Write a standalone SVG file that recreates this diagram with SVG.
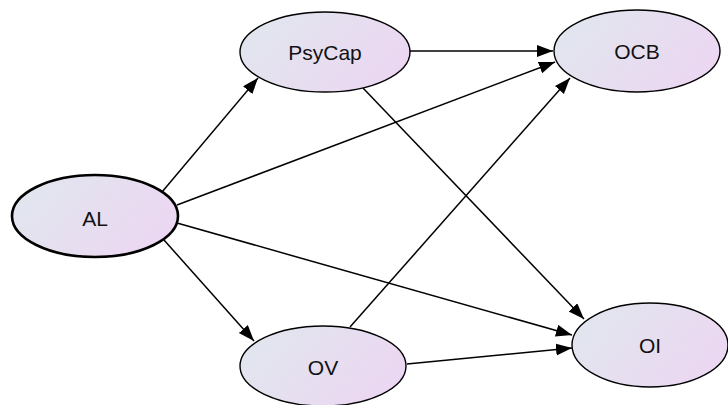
<svg xmlns="http://www.w3.org/2000/svg" width="728" height="405" viewBox="0 0 728 405">
  <style>
    .node ellipse { fill: url(#nodeFill); stroke: #000; stroke-width: 1.4; }
    .node.main ellipse { stroke-width: 2.6; }
    .node text { font-family: "Liberation Sans", Arial, sans-serif; font-size: 21px; fill: #111; text-anchor: middle; dominant-baseline: central; }
    .edges path { fill: none; stroke: #000; stroke-width: 1.5; marker-end: url(#arrow); }
  </style>
  <defs>
    <linearGradient id="nodeFill" x1="0" y1="0.3" x2="1" y2="0.7">
      <stop offset="0" stop-color="#e1e6ee"/>
      <stop offset="1" stop-color="#ecd6f2"/>
    </linearGradient>
    <marker id="arrow" markerUnits="userSpaceOnUse" markerWidth="17" markerHeight="13" refX="16" refY="6" orient="auto">
      <path d="M0,0 L16,6 L0,12 Z" fill="#000"/>
    </marker>
  </defs>
  <rect width="728" height="405" fill="#fff"/>

  <g class="edges">
    <path d="M162,192 L258,78"/>
    <path d="M177,205 L555,62"/>
    <path d="M164,240 L254,341"/>
    <path d="M177,223 L572,335"/>
    <path d="M409,51 L553,51"/>
    <path d="M363,88 L584,319"/>
    <path d="M350,327 L570,78"/>
    <path d="M407,364 L572,348"/>
  </g>

  <g id="AL" class="node main">
    <ellipse cx="95" cy="216" rx="83" ry="41"/>
    <text x="95" y="218">AL</text>
  </g>
  <g id="PsyCap" class="node">
    <ellipse cx="325" cy="52" rx="85" ry="40"/>
    <text x="325" y="52">PsyCap</text>
  </g>
  <g id="OCB" class="node">
    <ellipse cx="637" cy="51" rx="83" ry="41"/>
    <text x="637" y="51">OCB</text>
  </g>
  <g id="OV" class="node">
    <ellipse cx="323" cy="366" rx="83" ry="40"/>
    <text x="323" y="367">OV</text>
  </g>
  <g id="OI" class="node">
    <ellipse cx="650" cy="345" rx="78" ry="42"/>
    <text x="650" y="345">OI</text>
  </g>
</svg>
